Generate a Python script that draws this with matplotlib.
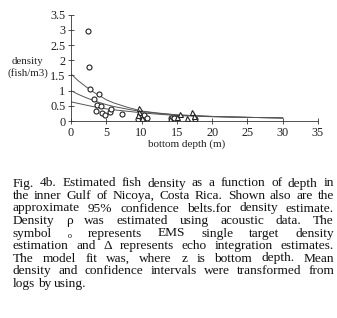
import matplotlib
matplotlib.use("Agg")
import matplotlib.pyplot as plt

plt.rcParams['font.family'] = ['Liberation Serif', 'DejaVu Serif']

# EMS single target estimates (circles)
ems_depth = [2.43, 2.56, 2.7, 3.94, 3.3, 3.75, 4.23, 3.5, 4.37, 4.84, 5.46, 5.7,
             7.2, 9.5, 9.8, 10.2, 10.4, 10.7, 14.1, 14.6, 17.5]
ems_density = [2.96, 1.79, 1.05, 0.88, 0.71, 0.53, 0.49, 0.34, 0.25, 0.2, 0.29, 0.38,
               0.24, 0.07, 0.17, 0.07, 0.2, 0.09, 0.09, 0.11, 0.07]

# echo integration estimates (triangles)
ei_depth = [9.7, 9.6, 9.5, 10.1, 14.0, 15.0, 15.5, 16.5, 17.2, 17.4]
ei_density = [0.42, 0.29, 0.2, 0.1, 0.08, 0.14, 0.22, 0.11, 0.29, 0.17]

# model fit and 95% belts
fit_depth = [0, 1, 2, 3, 4, 5, 6, 8, 10, 12, 15, 20, 25, 30]
fit_upper = [1.55, 1.33, 1.15, 0.98, 0.84, 0.70, 0.60, 0.45, 0.33, 0.27, 0.20, 0.15, 0.12, 0.10]
fit_mean = [1.0, 0.88, 0.78, 0.69, 0.61, 0.54, 0.48, 0.39, 0.31, 0.26, 0.20, 0.15, 0.12, 0.10]
fit_lower = [0.63, 0.58, 0.53, 0.48, 0.44, 0.40, 0.37, 0.32, 0.27, 0.23, 0.18, 0.14, 0.12, 0.10]

x_ticks = [0, 5, 10, 15, 20, 25, 30, 35]
y_ticks = [0, 0.5, 1, 1.5, 2, 2.5, 3, 3.5]
y_tick_labels = ['0', '0.5', '1', '1.5', '2', '2.5', '3', '3.5']

caption = [
    "Fig. 4b. Estimated fish density as a function of depth in",
    "the inner Gulf of Nicoya, Costa Rica. Shown also are the",
    "approximate 95% confidence belts.for density estimate.",
    "Density ρ was estimated using acoustic data. The",
    "symbol ₒ represents EMS single target density",
    "estimation and Δ represents echo integration estimates.",
    "The model fit was, where z is bottom depth.  Mean",
    "density and confidence intervals were transformed from",
    "logs by using.",
]

fig = plt.figure(figsize=(3.37, 3.18), dpi=100)
ax = fig.add_axes([71 / 337, 1 - 121 / 318, 247 / 337, 106.3 / 318])

for ys in (fit_upper, fit_mean, fit_lower):
    ax.plot(fit_depth, ys, color='#555555', lw=0.7)
ax.plot(ems_depth, ems_density, 'o', ms=3.6, mfc='white', mec='#222222', mew=0.8)
ax.plot(ei_depth, ei_density, '^', ms=3.6, mfc='white', mec='#222222', mew=0.8)

ax.set_xlim(0, 35)
ax.set_ylim(0, 3.5)
ax.set_xticks(x_ticks)
ax.set_yticks(y_ticks)
ax.set_yticklabels(y_tick_labels)
ax.spines['top'].set_visible(False)
ax.spines['right'].set_visible(False)
for s in ('left', 'bottom'):
    ax.spines[s].set_linewidth(0.6)
    ax.spines[s].set_color('#333333')
ax.tick_params(direction='inout', length=4, width=0.6, color='#333333',
               labelsize=8.8, labelcolor='#222222', pad=2)
ax.patch.set_alpha(0)

fig.text(27 / 337, 1 - 62 / 318, "density", ha='center', va='center', fontsize=7.8, color='#222222')
fig.text(28 / 337, 1 - 73 / 318, "(fish/m3)", ha='center', va='center', fontsize=7.8, color='#222222')
fig.text(187 / 337, 1 - 144 / 318, "bottom depth (m)", ha='center', va='center', fontsize=8, color='#222222')

# justified caption, placed word by word
x0, x1 = 12.7, 334.0
line_y = [186.5, 199, 211.5, 224, 236.5, 249, 261.5, 274, 286.5]
fig.canvas.draw()
renderer = fig.canvas.get_renderer()
for i, (line, yy) in enumerate(zip(caption, line_y)):
    words = line.split()
    texts = [fig.text(0, 1 - yy / 318, w, fontsize=9.6, va='baseline', ha='left', color='#111111')
             for w in words]
    widths = [t.get_window_extent(renderer).width for t in texts]
    if i < len(caption) - 1 and len(words) > 1:
        gap = (x1 - x0 - sum(widths)) / (len(words) - 1)
    else:
        gap = 2.6
    x = x0
    for t, w in zip(texts, widths):
        t.set_x(x / 337)
        x += w + gap

fig.savefig("out.png", dpi=100)
